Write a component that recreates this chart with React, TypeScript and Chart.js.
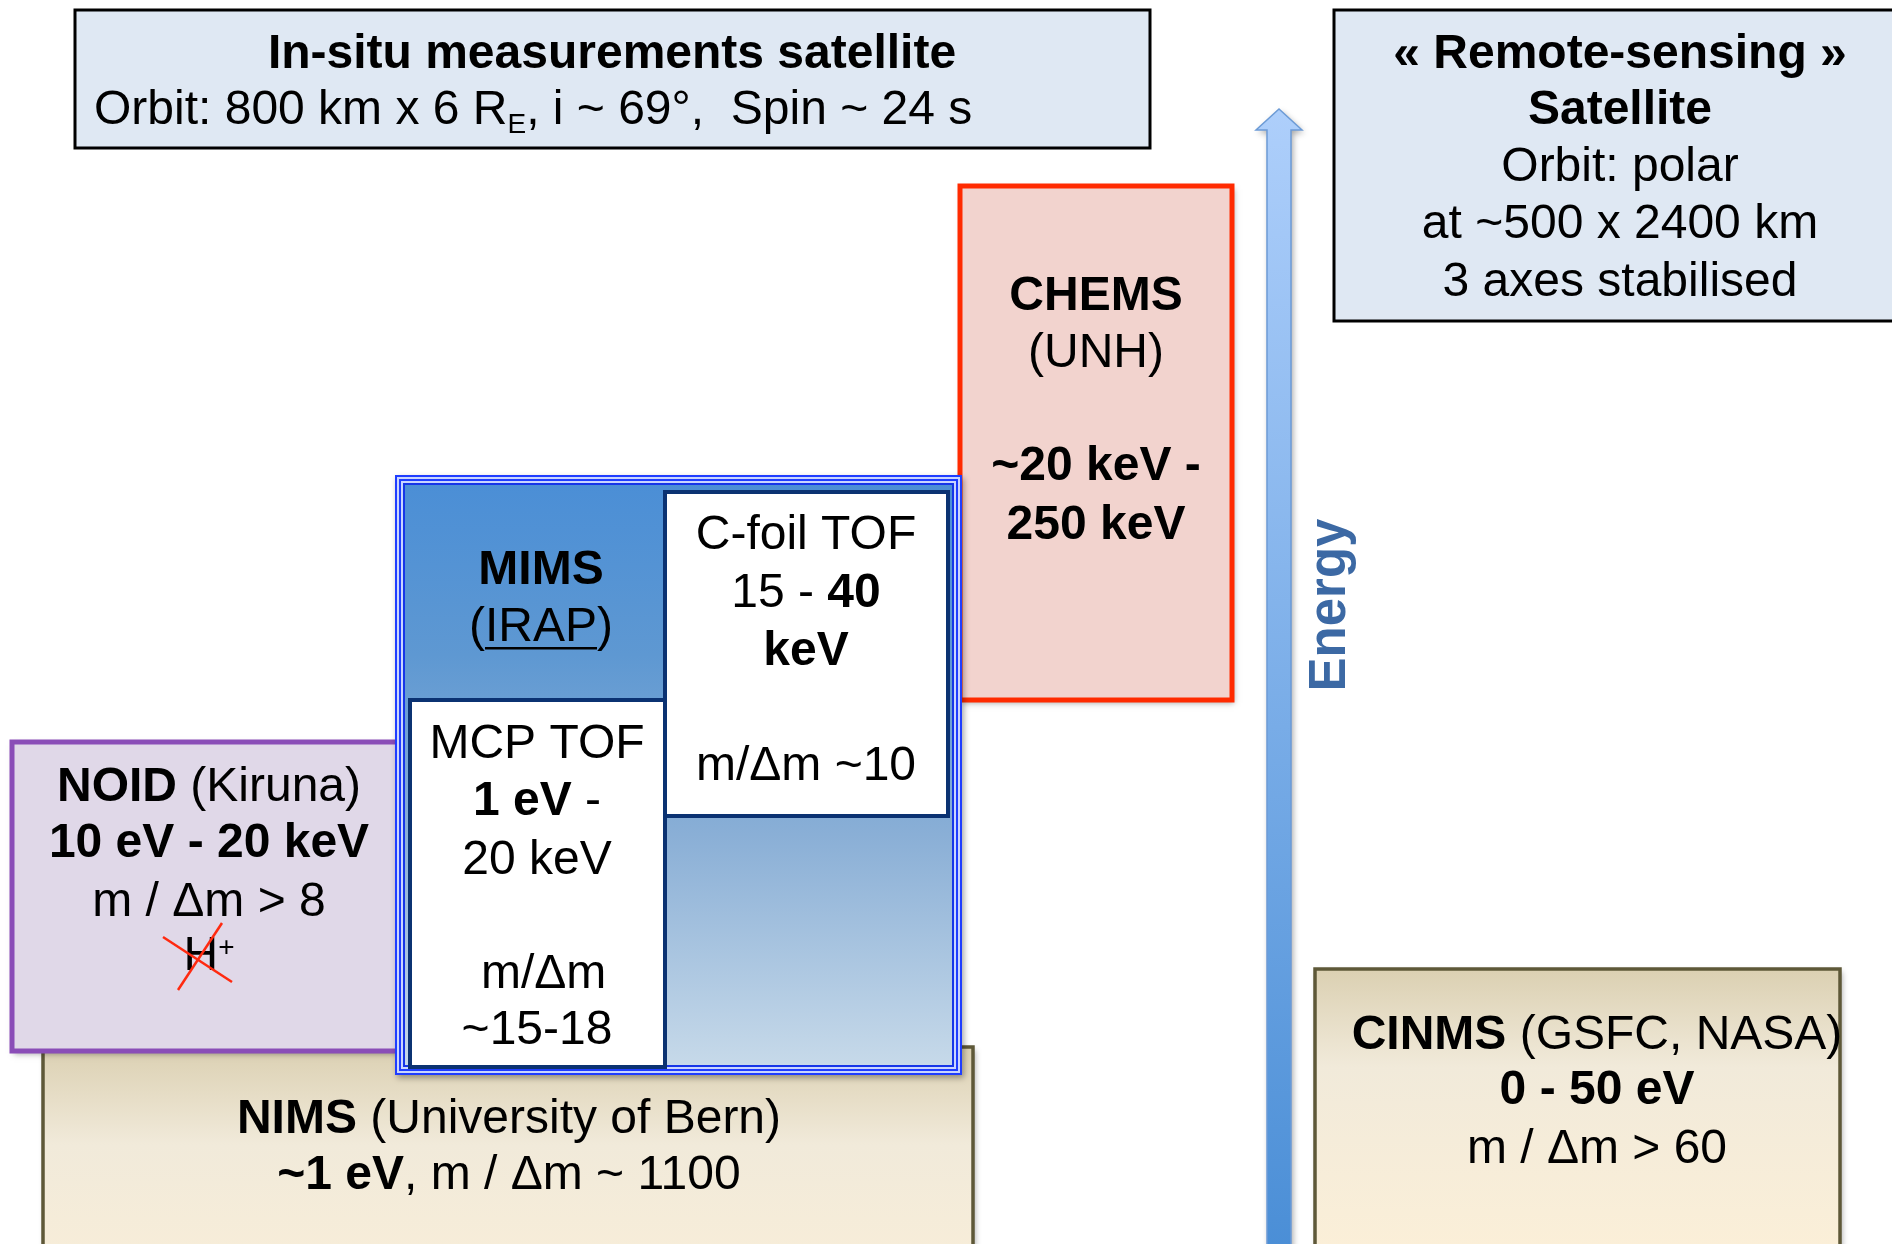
import React, { useEffect, useRef } from 'react';
import { Chart, registerables } from 'chart.js';

Chart.register(...registerables);

const FONT = "'Liberation Sans', Arial, Helvetica, sans-serif";
const SIZE = 48;

// Instruments: horizontal extent and energy extent (energy axis points upward)
const instruments = ['NIMS', 'CINMS', 'CHEMS', 'NOID', 'MIMS', 'MCP TOF', 'C-foil TOF'];
const xFrom = [43, 1315, 960, 12, 395, 410, 665];
const xTo = [973, 1840, 1232, 398, 962, 665, 948];
const energyLow = [-20, -20, 544, 193, 169, 177, 428];
const energyHigh = [197, 275, 1058, 502, 769, 544, 752];

// Satellite header boxes
const headers = ['In-situ', 'Remote-sensing'];
const headerXFrom = [75, 1334];
const headerXTo = [1150, 1905];
const headerLow = [1096, 923];
const headerHigh = [1234, 1234];

type Run = { t: string; b?: boolean; sub?: boolean; sup?: boolean; u?: boolean };
const R = (t: string): Run => ({ t });
const B = (t: string): Run => ({ t, b: true });

const labelTexts: Run[][][] = [
  [[B('NIMS'), R(' (University of Bern)')], [B('~1 eV'), R(', m / Δm ~ 1100')]],
  [[B('CINMS'), R(' (GSFC, NASA)')], [B('0 - 50 eV')], [R('m / Δm > 60')]],
  [[B('CHEMS')], [R('(UNH)')], [B('~20 keV -')], [B('250 keV')]],
  [[B('NOID'), R(' (Kiruna)')], [B('10 eV - 20 keV')], [R('m / Δm > 8')], [R('H'), { t: '+', sup: true }]],
  [[B('MIMS')], [R('('), { t: 'IRAP', u: true }, R(')')]],
  [[R('MCP TOF')], [B('1 eV'), R(' -')], [R('20 keV')], [R(' m/Δm')], [R('~15-18')]],
  [[R('C-foil TOF')], [R('15 - '), B('40')], [B('keV')], [R('m/Δm ~10')]],
];
const labelX = [509, 1597, 1096, 209, 541, 537, 806];
const labelLineY = [
  [124, 68],
  [208, 153, 94],
  [947, 890, 777, 718],
  [456, 400, 341, 287],
  [673, 616],
  [499, 442, 383, 269, 213],
  [708, 650, 592, 477],
];

const headerTexts: Run[][][] = [
  [[B('In-situ measurements satellite')], [R('Orbit: 800 km x 6 R'), { t: 'E', sub: true }, R(', i ~ 69°,  Spin ~ 24 s')]],
  [[B('« Remote-sensing »')], [B('Satellite')], [R('Orbit: polar')], [R('at ~500 x 2400 km')], [R('3 axes stabilised')]],
];
const headerTextX = [[612, 94], [1620, 1620, 1620, 1620, 1620]];
const headerTextAlign = [['center', 'left'], ['center', 'center', 'center', 'center', 'center']];
const headerLineY = [[1189, 1133], [1189, 1133, 1076, 1019, 961]];

// Energy arrow
const arrowX = 1279;
const arrowBottom = -10;
const arrowHeadBase = 1114;
const arrowTip = 1135;
const energyLabel = 'Energy';
const energyLabelPos = { x: 1331, y: 639 };

// Crossed-out H+ marks
const crossA = [{ x: 163, y: 307 }, { x: 232, y: 262 }];
const crossB = [{ x: 222, y: 321 }, { x: 178, y: 254 }];

function fontOf(r: Run) {
  const s = r.sub || r.sup ? Math.round(SIZE * 0.58) : SIZE;
  return `${r.b ? 'bold ' : ''}${s}px ${FONT}`;
}

function drawRuns(ctx: CanvasRenderingContext2D, runs: Run[], x: number, y: number, align: string) {
  const widths = runs.map((r) => {
    ctx.font = fontOf(r);
    return ctx.measureText(r.t).width;
  });
  const total = widths.reduce((a, b) => a + b, 0);
  let cx = align === 'center' ? x - total / 2 : x;
  ctx.textAlign = 'left';
  ctx.textBaseline = 'middle';
  runs.forEach((r, i) => {
    ctx.font = fontOf(r);
    let dy = 0;
    if (r.sub) dy = SIZE * 0.3;
    if (r.sup) dy = -SIZE * 0.18;
    ctx.fillStyle = '#000';
    ctx.fillText(r.t, cx, y + dy);
    if (r.u) {
      ctx.strokeStyle = '#000';
      ctx.lineWidth = 2.5;
      ctx.beginPath();
      ctx.moveTo(cx, y + SIZE * 0.42);
      ctx.lineTo(cx + widths[i], y + SIZE * 0.42);
      ctx.stroke();
    }
    cx += widths[i];
  });
}

const diagramPlugin = {
  id: 'diagram',
  afterDatasetsDraw(chart: any) {
    const ctx: CanvasRenderingContext2D = chart.ctx;
    const xs = chart.scales.x;
    const ys = chart.scales.y;
    const px = (v: number) => xs.getPixelForValue(v);
    const py = (v: number) => ys.getPixelForValue(v);
    const rectOf = (i: number) => {
      const l = px(xFrom[i]);
      const r = px(xTo[i]);
      const t = py(energyHigh[i]);
      const b = py(energyLow[i]);
      return { l, t, w: r - l, h: b - t };
    };
    const shadowOn = () => {
      ctx.shadowColor = 'rgba(0,0,0,0.35)';
      ctx.shadowBlur = 6;
      ctx.shadowOffsetX = 2;
      ctx.shadowOffsetY = 3;
    };
    const shadowOff = () => {
      ctx.shadowColor = 'transparent';
      ctx.shadowBlur = 0;
      ctx.shadowOffsetX = 0;
      ctx.shadowOffsetY = 0;
    };
    ctx.save();

    // header boxes
    headers.forEach((_, i) => {
      const l = px(headerXFrom[i]);
      const t = py(headerHigh[i]);
      const w = px(headerXTo[i]) - l;
      const h = py(headerLow[i]) - t;
      ctx.fillStyle = '#dfe8f3';
      ctx.fillRect(l, t, w, h);
      ctx.strokeStyle = '#000';
      ctx.lineWidth = 3;
      ctx.strokeRect(l, t, w, h);
    });

    // energy arrow
    {
      const sh = 12;
      const hh = 23;
      const grad = ctx.createLinearGradient(0, py(arrowTip), 0, py(arrowBottom));
      grad.addColorStop(0, '#aecffb');
      grad.addColorStop(1, '#4a8ed6');
      ctx.beginPath();
      ctx.moveTo(px(arrowX - sh), py(arrowBottom));
      ctx.lineTo(px(arrowX - sh), py(arrowHeadBase));
      ctx.lineTo(px(arrowX - hh), py(arrowHeadBase));
      ctx.lineTo(px(arrowX), py(arrowTip));
      ctx.lineTo(px(arrowX + hh), py(arrowHeadBase));
      ctx.lineTo(px(arrowX + sh), py(arrowHeadBase));
      ctx.lineTo(px(arrowX + sh), py(arrowBottom));
      ctx.closePath();
      shadowOn();
      ctx.fillStyle = grad;
      ctx.fill();
      shadowOff();
      ctx.strokeStyle = '#6c9bd6';
      ctx.lineWidth = 1.5;
      ctx.stroke();
    }

    const order = [0, 1, 2, 3, 4, 5, 6];
    order.forEach((i) => {
      const { l, t, w, h } = rectOf(i);
      const name = instruments[i];
      if (name === 'NIMS' || name === 'CINMS') {
        const g = ctx.createLinearGradient(0, t, 0, t + 280);
        g.addColorStop(0, '#dbd0b2');
        g.addColorStop(0.35, '#f1eada');
        g.addColorStop(1, '#fbefd8');
        shadowOn();
        ctx.fillStyle = g;
        ctx.fillRect(l, t, w, h);
        shadowOff();
        ctx.strokeStyle = '#5e5838';
        ctx.lineWidth = 3.5;
        ctx.strokeRect(l, t, w, h);
      } else if (name === 'CHEMS') {
        shadowOn();
        ctx.fillStyle = '#f2d3ce';
        ctx.fillRect(l, t, w, h);
        shadowOff();
        ctx.strokeStyle = '#ff2a00';
        ctx.lineWidth = 5;
        ctx.strokeRect(l, t, w, h);
      } else if (name === 'NOID') {
        shadowOn();
        ctx.fillStyle = '#e0d8e8';
        ctx.fillRect(l, t, w, h);
        shadowOff();
        ctx.strokeStyle = '#8a4db7';
        ctx.lineWidth = 5;
        ctx.strokeRect(l, t, w, h);
      } else if (name === 'MIMS') {
        const g = ctx.createLinearGradient(0, t, 0, t + h);
        g.addColorStop(0, '#4a8ed6');
        g.addColorStop(0.3, '#5e98d2');
        g.addColorStop(0.6, '#8aafd6');
        g.addColorStop(1, '#c9dbea');
        shadowOn();
        ctx.fillStyle = g;
        ctx.fillRect(l, t, w, h);
        shadowOff();
        ctx.strokeStyle = '#c9d5ff';
        ctx.lineWidth = 9;
        ctx.strokeRect(l + 4.5, t + 4.5, w - 9, h - 9);
        ctx.strokeStyle = '#1f3dff';
        ctx.lineWidth = 2;
        ctx.strokeRect(l + 1, t + 1, w - 2, h - 2);
        ctx.strokeRect(l + 5, t + 5, w - 10, h - 10);
        ctx.strokeStyle = '#1636e8';
        ctx.strokeRect(l + 9, t + 9, w - 18, h - 18);
      } else {
        ctx.fillStyle = '#ffffff';
        ctx.fillRect(l, t, w, h);
        ctx.strokeStyle = '#0b3272';
        ctx.lineWidth = 4;
        ctx.strokeRect(l, t, w, h);
      }
    });

    // texts
    labelTexts.forEach((lines, i) => {
      lines.forEach((runs, j) => {
        drawRuns(ctx, runs, px(labelX[i]), py(labelLineY[i][j]), 'center');
      });
    });
    headerTexts.forEach((lines, i) => {
      lines.forEach((runs, j) => {
        drawRuns(ctx, runs, px(headerTextX[i][j]), py(headerLineY[i][j]), headerTextAlign[i][j]);
      });
    });

    // crossed-out H+
    ctx.strokeStyle = '#ff2a10';
    ctx.lineWidth = 2.5;
    [crossA, crossB].forEach((c) => {
      ctx.beginPath();
      ctx.moveTo(px(c[0].x), py(c[0].y));
      ctx.lineTo(px(c[1].x), py(c[1].y));
      ctx.stroke();
    });

    // Energy label
    ctx.save();
    ctx.translate(px(energyLabelPos.x), py(energyLabelPos.y));
    ctx.rotate(-Math.PI / 2);
    ctx.font = `bold 51px ${FONT}`;
    ctx.fillStyle = '#3c69a4';
    ctx.textAlign = 'center';
    ctx.textBaseline = 'middle';
    ctx.fillText(energyLabel, 0, 0);
    ctx.restore();

    ctx.restore();
  },
};

export default function App() {
  const ref = useRef<HTMLCanvasElement | null>(null);
  useEffect(() => {
    document.body.style.margin = '0';
    const canvas = ref.current;
    if (!canvas) return;
    const chart = new Chart(canvas, {
      type: 'scatter',
      data: {
        datasets: [
          {
            label: 'instruments',
            data: instruments.map((_, i) => ({ x: (xFrom[i] + xTo[i]) / 2, y: (energyLow[i] + energyHigh[i]) / 2 })),
            pointRadius: 0,
            pointHoverRadius: 0,
          },
        ],
      },
      options: {
        animation: false,
        responsive: false,
        maintainAspectRatio: false,
        devicePixelRatio: 1,
        events: [],
        layout: { padding: 0 },
        plugins: {
          legend: { display: false },
          tooltip: { enabled: false },
          title: { display: false },
        },
        scales: {
          x: { type: 'linear', min: 0, max: 1892, display: false },
          y: { type: 'linear', min: 0, max: 1244, display: false },
        },
      },
      plugins: [diagramPlugin],
    } as any);
    return () => chart.destroy();
  }, []);
  return (
    <div style={{ width: 1892, height: 1244, background: '#fff' }}>
      <canvas ref={ref} width={1892} height={1244} style={{ display: 'block' }} />
    </div>
  );
}
